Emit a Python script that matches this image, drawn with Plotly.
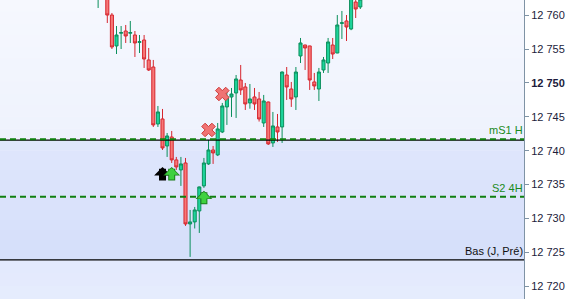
import plotly.graph_objects as go

# ---------------- data ----------------
idx = list(range(58))
opens = [12763.0, 12766.0, 12763.5, 12760.04, 12755.47, 12757.35, 12757.68, 12757.35, 12757.09, 12756.00,
         12756.35, 12753.40, 12752.36, 12743.94, 12744.68, 12740.69, 12742.02, 12738.63, 12737.15, 12738.18,
         12729.17, 12729.47, 12731.09, 12734.79, 12738.04, 12740.10, 12739.37, 12742.76, 12746.46, 12747.93,
         12748.52, 12750.44, 12749.41, 12747.05, 12747.93, 12747.64, 12744.09, 12747.19, 12741.14, 12743.50,
         12743.50, 12751.18, 12749.11, 12747.93, 12753.99, 12755.61, 12755.47, 12750.15, 12749.11, 12751.92,
         12752.95, 12755.61, 12754.43, 12758.80, 12759.16, 12757.98, 12761.96, 12761.23]
highs = [12766.0, 12767.0, 12764.0, 12760.34, 12758.42, 12758.42, 12758.57, 12759.16, 12757.68, 12757.09,
         12757.09, 12755.17, 12753.40, 12746.60, 12746.16, 12742.61, 12742.91, 12739.07, 12739.07, 12738.92,
         12731.24, 12731.68, 12734.70, 12738.92, 12741.58, 12740.69, 12744.09, 12747.05, 12748.67, 12749.26,
         12751.18, 12752.66, 12750.00, 12749.85, 12749.26, 12748.67, 12748.23, 12747.25, 12745.72, 12745.42,
         12751.70, 12752.36, 12750.15, 12752.36, 12756.65, 12755.65, 12755.50, 12751.48, 12752.22, 12753.84,
         12756.65, 12756.65, 12760.04, 12760.64, 12760.04, 12763.00, 12762.50, 12762.80]
lows = [12761.08, 12763.0, 12758.86, 12755.02, 12754.28, 12755.02, 12755.91, 12755.91, 12753.84, 12754.43,
        12752.22, 12751.77, 12743.50, 12743.50, 12740.10, 12739.07, 12738.18, 12737.15, 12734.79, 12728.88,
        12724.30, 12728.50, 12727.84, 12734.50, 12737.90, 12738.04, 12739.20, 12742.60, 12743.80, 12744.98,
        12744.83, 12748.23, 12746.01, 12746.20, 12746.01, 12744.30, 12743.50, 12740.84, 12740.55, 12741.29,
        12741.14, 12747.49, 12746.46, 12746.01, 12752.95, 12751.92, 12748.97, 12748.97, 12747.34, 12751.48,
        12751.48, 12753.54, 12754.40, 12756.50, 12756.20, 12757.80, 12759.60, 12760.93]
closes = [12765.0, 12764.0, 12760.04, 12755.32, 12757.09, 12757.45, 12756.94, 12757.45, 12755.91, 12756.10,
          12753.54, 12751.92, 12743.80, 12745.72, 12740.40, 12742.17, 12738.63, 12737.59, 12738.04, 12729.17,
          12729.47, 12731.24, 12734.64, 12738.18, 12740.10, 12739.66, 12743.21, 12746.60, 12747.93, 12748.37,
          12750.59, 12748.97, 12746.90, 12747.64, 12746.90, 12744.68, 12747.34, 12740.99, 12743.65, 12742.76,
          12751.62, 12749.41, 12747.64, 12751.62, 12755.91, 12755.17, 12750.44, 12749.56, 12751.62, 12753.40,
          12756.06, 12754.28, 12758.57, 12758.90, 12758.27, 12762.50, 12760.93, 12762.40]

# signals
sell_x = [24, 27]
sell_y = [12743.06, 12748.37]
buy_x = [14, 16, 23]
buy_y = [12737.44, 12737.44, 12733.94]
buy_kind = ["black", "green", "green"]

# levels
level_names = ["mS1 H", "S2 4H", "Bas (J, Pré)"]
level_values = [12741.70, 12733.20, 12723.86]
band_top = 12741.55
band_bottom = 12723.86

tick_vals = [12720, 12725, 12730, 12735, 12740, 12745, 12750, 12755, 12760]
tick_text = ["12 720", "12 725", "12 730", "12 735", "12 740", "12 745", "<b>12 750</b>", "12 755", "12 760"]

y_range = [12718.08, 12762.26]
x_range = [-21.33, 92.59]


def _mix(c1, c2, t):
    a = [int(c1[i:i + 2], 16) for i in (1, 3, 5)]
    b = [int(c2[i:i + 2], 16) for i in (1, 3, 5)]
    return "#" + "".join("%02x" % round(a[k] + (b[k] - a[k]) * t) for k in range(3))


def gradient_rects(y0, y1, c_bottom, c_top, steps=12):
    out = []
    for s in range(steps):
        lo = y0 + (y1 - y0) * s / steps
        hi = y0 + (y1 - y0) * (s + 1) / steps
        out.append(dict(type="rect", xref="paper", x0=0, x1=1, yref="y", y0=lo, y1=hi,
                        fillcolor=_mix(c_bottom, c_top, (s + 0.5) / steps),
                        line=dict(width=0), layer="below"))
    return out


# ---------------- figure ----------------
fig = go.Figure()

fig.add_trace(go.Candlestick(
    x=idx, open=opens, high=highs, low=lows, close=closes,
    increasing=dict(fillcolor="#1dd49b", line=dict(color="#0b8f5c", width=1)),
    decreasing=dict(fillcolor="#f77878", line=dict(color="#d6262e", width=1)),
    whiskerwidth=0, showlegend=False, hoverinfo="skip"))

fig.add_trace(go.Scatter(
    x=sell_x, y=sell_y, mode="markers", showlegend=False, hoverinfo="skip",
    marker=dict(symbol="x", size=12, color="#f07373", line=dict(color="#cf3b3b", width=1))))

level_style = {
    "mS1 H": dict(color="#0f800f", dash="6px,4px", width=2, font="#1a8a1a"),
    "S2 4H": dict(color="#0f800f", dash="6px,4px", width=2, font="#1a8a1a"),
    "Bas (J, Pré)": dict(color="#000000", dash="solid", width=1.3, font="#111111"),
}

shapes = []
shapes += gradient_rects(band_top, y_range[1], "#eef2fd", "#f6f8fe")
shapes += gradient_rects(band_bottom, band_top, "#d5dffa", "#dfe6fc")
shapes += gradient_rects(y_range[0], band_bottom, "#e6ecfd", "#e2e9fd", steps=3)
shapes.append(dict(type="line", xref="paper", x0=0, x1=1, yref="y", y0=band_top, y1=band_top,
                   line=dict(color="#000000", width=1.3)))
annotations = []
for name, val in zip(level_names, level_values):
    st = level_style[name]
    shapes.append(dict(type="line", xref="paper", x0=0, x1=1, yref="y", y0=val, y1=val,
                       line=dict(color=st["color"], width=st["width"], dash=st["dash"])))
    annotations.append(dict(xref="paper", x=1, xanchor="right", yref="y", y=val, yanchor="bottom",
                            text=name, showarrow=False, yshift=1, xshift=1,
                            font=dict(family="Liberation Sans, Arial", size=11, color=st["font"])))

arrow_colors = {"black": ("#000000", "#000000"), "green": ("#1d7d1d", "#3fd13f")}
for bx, by, kind in zip(buy_x, buy_y, buy_kind):
    outline, fill = arrow_colors[kind]
    annotations.append(dict(x=bx, y=by, xref="x", yref="y", ax=0, ay=15, text="", yshift=1,
                            showarrow=True, arrowhead=1, arrowwidth=7, arrowsize=0.4,
                            arrowcolor=outline))
    annotations.append(dict(x=bx, y=by, xref="x", yref="y", ax=0, ay=13, text="",
                            showarrow=True, arrowhead=1, arrowwidth=5, arrowsize=0.45,
                            arrowcolor=fill))

fig.update_layout(
    width=575, height=299, margin=dict(l=0, r=51, t=0, b=0),
    paper_bgcolor="#ffffff", plot_bgcolor="#f2f5fd",
    shapes=shapes, annotations=annotations, showlegend=False, boxgap=0.05,
    xaxis=dict(range=x_range, visible=False, rangeslider=dict(visible=False)),
    yaxis=dict(range=y_range, side="right", tickvals=tick_vals, ticktext=tick_text,
               ticks="outside", ticklen=4, tickcolor="#7f93a5", showline=True,
               linecolor="#7f93a5", linewidth=1, showgrid=False, zeroline=False,
               tickfont=dict(family="Liberation Sans, Arial", size=11, color="#1c1c3c")),
)

fig.write_html("out.html")
